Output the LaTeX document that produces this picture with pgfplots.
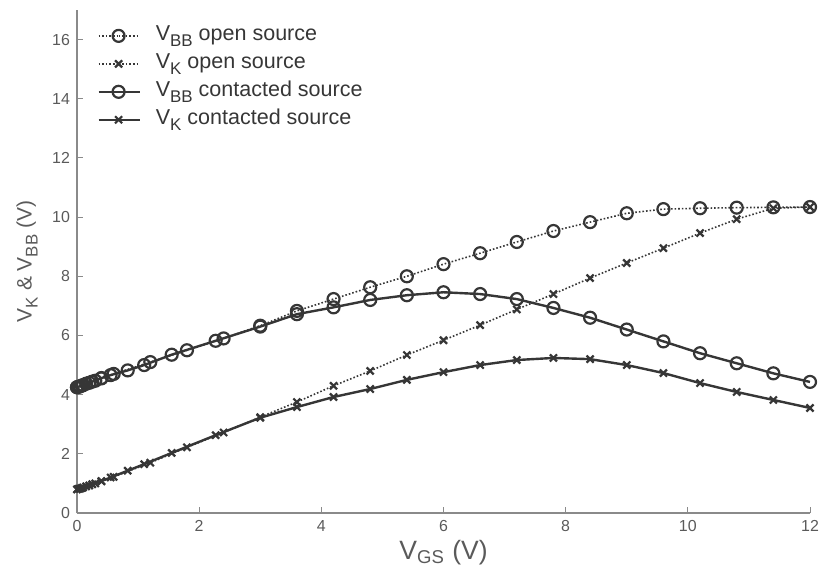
\documentclass[border=0pt]{standalone}
\usepackage{pgfplots}
\pgfplotsset{compat=1.18}
\usepackage{fontspec}
\setmainfont{Liberation Sans}
\definecolor{ln}{HTML}{363636}
\definecolor{ax}{HTML}{8A8A8A}
\definecolor{tx}{HTML}{5A5A5A}
\newcommand\sub[2]{\raisebox{-0.55ex}{\fontsize{#1}{#1}\selectfont #2}}
\begin{document}
\begin{tikzpicture}
\begin{axis}[
  scale only axis,
  width=366.5bp, height=251.5bp,
  xmin=0, xmax=12, ymin=0, ymax=17,
  axis lines=left,
  axis line style={ax, -, line width=0.6bp},
  xtick={0,2,...,12}, ytick={0,2,...,16},
  tick style={ax, line width=0.5bp},
  tick align=inside, major tick length=3bp,
  tick label style={font=\fontsize{8}{9}\selectfont, text=tx},
  /pgf/number format/assume math mode=true,
  xlabel={V\textsubscript{GS} (V)},
  ylabel={V\sub{8.5}{K} \& V\sub{8.5}{BB} (V)},
  xlabel style={font=\fontsize{13.3}{15}\selectfont, text=tx, at={(axis description cs:0.5,0)}, anchor=base, yshift=-23bp},
  ylabel style={font=\fontsize{10.5}{12}\selectfont, text=tx, at={(axis description cs:-0.0682,0.5)}, anchor=center},
  legend style={at={(axis description cs:0,1)}, xshift=9bp, yshift=-4bp, anchor=north west, draw=none, fill=none,
    font=\fontsize{10.8}{12}\selectfont, text=ln, row sep=-1.5bp, inner sep=1bp,
    nodes={text height=8bp, text depth=3.5bp},
    /tikz/every odd column/.append style={column sep=5.5bp}},
  legend cell align=left,
  legend image code/.code={\draw[#1] (0bp,0bp) -- (10bp,0bp) plot coordinates {(10bp,0bp)} -- (20.5bp,0bp);},
]
\addplot[ln, densely dotted, line width=0.8bp, mark=o, mark size=3bp, mark options={solid, line width=1.1bp}] coordinates {
(0,4.25)(0.05,4.28)(0.1,4.32)(0.2,4.40)(0.3,4.47)(0.4,4.55)(0.6,4.70)(1.2,5.10)(1.8,5.50)(2.4,5.90)(3.0,6.33)(3.6,6.83)(4.2,7.23)(4.8,7.63)(5.4,8.00)(6.0,8.41)(6.6,8.78)(7.2,9.16)(7.8,9.53)(8.4,9.83)(9.0,10.13)(9.6,10.27)(10.2,10.30)(10.8,10.32)(11.4,10.33)(12,10.34)};
\addlegendentry{V\sub{8.5}{BB} open source}
\addplot[ln, densely dotted, line width=0.8bp, mark=x, mark size=2.5bp, mark options={solid, line width=1.1bp}] coordinates {
(0,0.80)(0.05,0.82)(0.1,0.86)(0.2,0.93)(0.3,1.00)(0.4,1.07)(0.6,1.22)(1.2,1.70)(1.8,2.22)(2.4,2.72)(3.0,3.24)(3.6,3.75)(4.2,4.30)(4.8,4.80)(5.4,5.34)(6.0,5.84)(6.6,6.35)(7.2,6.88)(7.8,7.40)(8.4,7.94)(9.0,8.45)(9.6,8.95)(10.2,9.46)(10.8,9.93)(11.4,10.30)(12,10.34)};
\addlegendentry{V\sub{8.5}{K} open source}
\addplot[ln, solid, line width=1.2bp, mark=o, mark size=3bp, mark options={solid, line width=1.1bp}] coordinates {
(0,4.25)(0.03,4.27)(0.08,4.31)(0.15,4.37)(0.25,4.44)(0.4,4.56)(0.55,4.66)(0.83,4.82)(1.1,5.00)(1.55,5.35)(2.27,5.82)(3.0,6.30)(3.6,6.72)(4.2,6.95)(4.8,7.20)(5.4,7.36)(6.0,7.46)(6.6,7.40)(7.2,7.23)(7.8,6.93)(8.4,6.60)(9.0,6.20)(9.6,5.80)(10.2,5.40)(10.8,5.06)(11.4,4.72)(12,4.43)};
\addlegendentry{V\sub{8.5}{BB} contacted source}
\addplot[ln, solid, line width=1.2bp, mark=x, mark size=2.5bp, mark options={solid, line width=1.1bp}] coordinates {
(0,0.80)(0.03,0.82)(0.08,0.85)(0.15,0.90)(0.25,0.97)(0.4,1.08)(0.55,1.20)(0.83,1.43)(1.1,1.65)(1.55,2.03)(2.27,2.63)(3.0,3.22)(3.6,3.58)(4.2,3.92)(4.8,4.19)(5.4,4.50)(6.0,4.76)(6.6,5.00)(7.2,5.17)(7.8,5.24)(8.4,5.20)(9.0,5.00)(9.6,4.73)(10.2,4.39)(10.8,4.09)(11.4,3.82)(12,3.55)};
\addlegendentry{V\sub{8.5}{K} contacted source}
\end{axis}
\pgfresetboundingbox
\path ([shift={(-38.5bp,-27bp)}]current axis.south west) rectangle ([shift={(5.5bp,5bp)}]current axis.north east);
\end{tikzpicture}
\end{document}
